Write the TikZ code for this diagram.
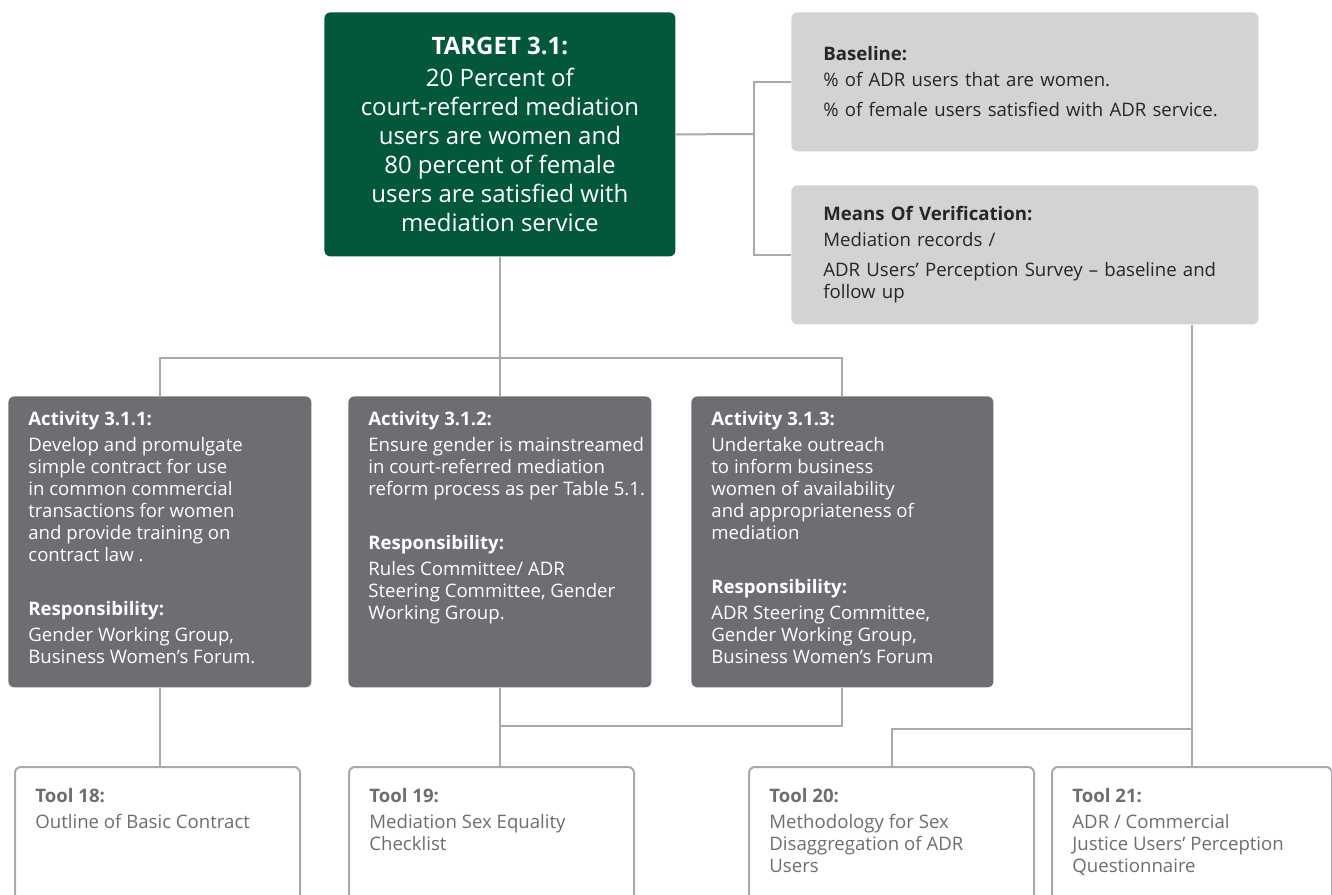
\documentclass[tikz,border=0pt]{standalone}
\usepackage{fontspec}
\setmainfont{Open Sans}
\usepackage{tikz}
\usetikzlibrary{positioning}
\usepackage{xcolor}

\definecolor{targetgreen}{HTML}{03573B}
\definecolor{actgray}{HTML}{6D6E71}
\definecolor{infogray}{HTML}{D1D3D4}
\definecolor{linegray}{HTML}{A7A9AC}
\definecolor{toolgray}{HTML}{6D6E71}

\tikzset{
  box/.style={anchor=north west, rounded corners=3pt, inner sep=0pt},
  targetbox/.style={box, fill=targetgreen, text=white, align=center,
    font=\fontsize{12}{14.5}\selectfont, minimum width=175.5pt, minimum height=122pt},
  infobox/.style={box, fill=infogray, text=black!85, align=left, text width=201.5pt,
    inner xsep=16pt, minimum width=233.5pt, minimum height=69.5pt},
  actbox/.style={box, fill=actgray, minimum width=151.5pt, minimum height=145.5pt},
  acttext/.style={anchor=north west, inner sep=0pt, text=white, align=left},
  toolbox/.style={box, draw=linegray, line width=1pt, fill=white,
    minimum width=142.5pt, minimum height=100pt},
  tooltext/.style={anchor=north west, inner sep=0pt, text=toolgray, align=left},
  link/.style={draw=linegray, line width=1pt},
}

\begin{document}
\begin{tikzpicture}[x=0.5pt, y=-0.5pt, font=\fontsize{9.3}{11}\selectfont]
  \useasboundingbox (0,0) rectangle (1332,894);
  \clip (0,0) rectangle (1332,894);

  % target and indicators
  \node[targetbox] (target) at (324,12) {\textbf{TARGET 3.1:}\\[1.5pt]
    20 Percent of\\ court-referred mediation\\ users are women and\\
    80 percent of female\\ users are satisfied with\\ mediation service};
  \node[infobox] (base) at (791,12) {\textbf{Baseline:}\\[2pt]
    \% of ADR users that are women.\\[4pt]
    \% of female users satisfied with ADR service.};
  \node[infobox] (mov) at (791,185) {\textbf{Means Of Verification:}\\[2pt]
    Mediation records /\\[4pt]
    ADR Users’ Perception Survey – baseline and\\ follow up};

  % activities
  \node[actbox] (a1) at (8,396) {};
  \node[actbox] (a2) at (348,396) {};
  \node[actbox, minimum width=151pt] (a3) at (691,396) {};

  \node[acttext, below right=7.5pt and 10pt of a1.north west] (a1txt) {\textbf{Activity 3.1.1:}\\[2pt]
    Develop and promulgate\\ simple contract for use\\ in common commercial\\
    transactions for women\\ and provide training on\\ contract law .\\[16pt]
    \textbf{Responsibility:}\\[2pt]
    Gender Working Group,\\ Business Women’s Forum.};
  \node[acttext, below right=7.5pt and 10pt of a2.north west] (a2txt) {\textbf{Activity 3.1.2:}\\[2pt]
    Ensure gender is mainstreamed\\ in court-referred mediation\\
    reform process as per Table 5.1.\\[16pt]
    \textbf{Responsibility:}\\[2pt]
    Rules Committee/ ADR\\ Steering Committee, Gender\\ Working Group.};
  \node[acttext, below right=7.5pt and 10pt of a3.north west] (a3txt) {\textbf{Activity 3.1.3:}\\[2pt]
    Undertake outreach\\ to inform business\\ women of availability\\
    and appropriateness of\\ mediation\\[16pt]
    \textbf{Responsibility:}\\[2pt]
    ADR Steering Committee,\\ Gender Working Group,\\ Business Women’s Forum};

  % tools
  \node[toolbox] (t18) at (14,766) {};
  \node[toolbox] (t19) at (348,766) {};
  \node[toolbox] (t20) at (748,766) {};
  \node[toolbox, minimum width=140pt] (t21) at (1051,766) {};

  \node[tooltext, below right=11pt and 10.5pt of t18.north west] (t18txt) {\textbf{Tool 18:}\\[2pt]
    Outline of Basic Contract};
  \node[tooltext, below right=11pt and 10.5pt of t19.north west] (t19txt) {\textbf{Tool 19:}\\[2pt]
    Mediation Sex Equality\\ Checklist};
  \node[tooltext, below right=11pt and 10.5pt of t20.north west] (t20txt) {\textbf{Tool 20:}\\[2pt]
    Methodology for Sex\\ Disaggregation of ADR\\ Users};
  \node[tooltext, below right=11pt and 10.5pt of t21.north west] (t21txt) {\textbf{Tool 21:}\\[2pt]
    ADR / Commercial\\ Justice Users’ Perception\\ Questionnaire};

  % connectors
  \coordinate (spine) at (754,134);
  \draw[link] (target.east) -- (spine);
  \draw[link] (base.west) -| (spine) |- (mov.west);

  \coordinate (bus) at (499,358);
  \draw[link] (target.south) -- (a2.north);
  \draw[link] (a1.north) |- (bus) -| (a3.north);

  \draw[link] (a1.south) -- (a1.south |- t18.north);
  \path (a2.south) ++(0,38) coordinate (mid);
  \draw[link] (a2.south) -- (a2.south |- t19.north);
  \draw[link] (a3.south) |- (mid);

  \path (t21.north) ++(0,-37) coordinate (fork);
  \draw[link] (mov.south -| t21.north) -- (t21.north);
  \draw[link] (t20.north) |- (fork);
\end{tikzpicture}
\end{document}
